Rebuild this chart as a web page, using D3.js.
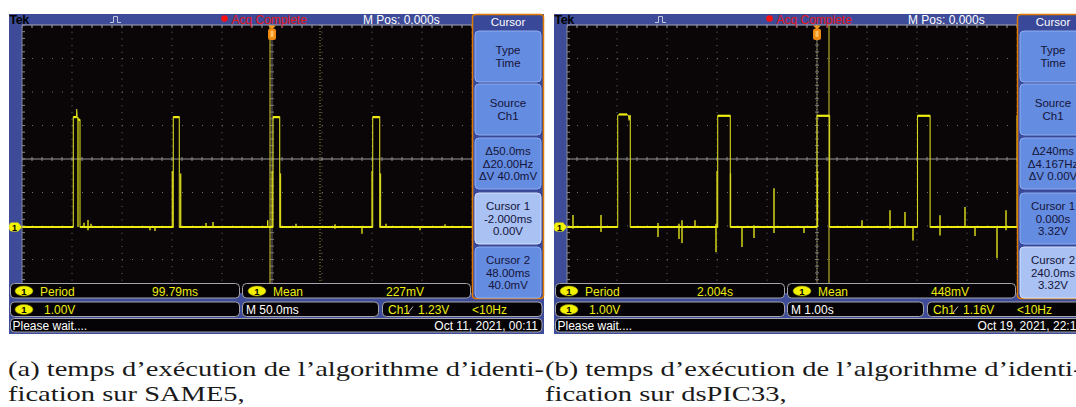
<!DOCTYPE html>
<html>
<head>
<meta charset="utf-8">
<script src="https://cdn.jsdelivr.net/npm/d3@7"></script>
<style>
  body { margin: 0; background: #fff; }
  svg { display: block; }
</style>
</head>
<body>
<div id="chart"></div>
<script>
// Two Tek oscilloscope captures side by side, with their LaTeX captions

// --- Panel A (SAME5): time in ms, 50 ms/div, 1 V/div ---
const traceA = [
  [-250, 0], [-198.7, 0], [-198.7, 3.28], [-195.5, 3.28], [-195.3, 3.52], [-194.8, 3.28],
  [-193.5, 3.2], [-192, 3.2], [-192, 0],
  [-98.7, 0], [-98.7, 3.28], [-92.7, 3.28], [-92.7, 0],
  [1, 0], [1, 3.28], [7.7, 3.28], [7.7, 0],
  [100.7, 0], [100.7, 3.28], [107.7, 3.28], [107.7, 0],
  [200.5, 0], [200.5, 3.28], [207.5, 3.28], [207.5, 0], [250, 0]
];
// short glitches on the baseline: [time, low V, high V]
const glitchA = [
  [-188, 0, 0.13], [-184, -0.1, 0.21], [-181, 0, 0.1], [-122, -0.1, 0], [-117, -0.12, 0],
  [-66, 0, 0.12], [-59, 0, 0.15], [-4.3, 0, 0.2], [24, 0, 0.1], [63, -0.05, 0.08],
  [90, -0.2, 0], [114, 0, 0.1], [148, -0.1, 0], [173, 0, 0.08]
];
// persistence edges: [time, from V, to V]
const ghostA = [
  [-194, 0, 3.28], [-99.7, 0, 1.67], [-91.3, 0, 1.6], [0.2, 0, 1.67], [8.5, 0, 1.6],
  [100, 0, 1.67], [108.5, 0, 1.6]
];
const cursorsA = [-2, 48];
const menuA = [
  ["Type", "Time"], ["Source", "Ch1"], ["\u039450.0ms", "\u039420.00Hz", "\u0394V 40.0mV"],
  ["Cursor 1", "-2.000ms", "0.00V"], ["Cursor 2", "48.00ms", "40.0mV"]
];
const measA = ["Period", "99.79ms", "Mean", "227mV"];
const statusA = ["1.00V", "M 50.0ms", "Ch1", "1.23V", "<10Hz", "Oct 11, 2021, 00:11"];

// --- Panel B (dsPIC33): time in s, 1 s/div, 1 V/div ---
const traceB = [
  [-5, 0], [-3.986, 0], [-3.986, 3.32], [-3.96, 3.36], [-3.8, 3.36], [-3.77, 3.32], [-3.76, 3.18],
  [-3.745, 3.32], [-3.734, 3.32], [-3.734, 0],
  [-1.986, 0], [-1.986, 3.32], [-1.734, 3.32], [-1.734, 0],
  [0, 0], [0, 3.32], [0.252, 3.32], [0.252, 0],
  [2.01, 0], [2.01, 3.32], [2.262, 3.32], [2.262, 0],
  [4.0, 0], [4.0, 3.32], [4.26, 3.32], [4.26, 0], [5, 0]
];
const glitchB = [
  [-4.88, -0.05, 0.36], [-4.32, -0.15, 0.36], [-3.18, -0.3, 0.12], [-2.76, -0.36, 0.1],
  [-2.7, -0.48, 0.2], [-2.44, 0, 0.2], [-2.02, -0.75, 0.1], [-1.5, -0.6, 0],
  [-1.26, -0.33, 0.05], [-0.86, -0.18, 1.16], [-0.26, -0.18, 0],
  [0.9, 0, 0.2], [1.46, -0.05, 0.5], [1.76, 0, 0.45], [1.92, -0.4, 0], [2.46, -0.25, 0.35],
  [2.96, 0, 0.6], [3.16, -0.27, 0], [3.6, -0.93, 0], [3.78, -0.1, 0.5]
];
const ghostB = [[-2.0, 0, 1.67], [-1.73, 0, 1.6], [0.01, 0, 1.67]];
const cursorsB = [0, 0.24];
const menuB = [
  ["Type", "Time"], ["Source", "Ch1"], ["\u0394240ms", "\u03944.167Hz", "\u0394V 0.00V"],
  ["Cursor 1", "0.000s", "3.32V"], ["Cursor 2", "240.0ms", "3.32V"]
];
const measB = ["Period", "2.004s", "Mean", "448mV"];
const statusB = ["1.00V", "M 1.00s", "Ch1", "1.16V", "<10Hz", "Oct 19, 2021, 22:17"];

const captionA = ["(a) temps d\u2019ex\u00e9cution de l\u2019algorithme d\u2019identi-", "fication sur SAME5,"];
const captionB = ["(b) temps d\u2019ex\u00e9cution de l\u2019algorithme d\u2019identi-", "fication sur dsPIC33,"];

const panels = [
  { ox: 0, div: 50, trace: traceA, glitch: glitchA, ghost: ghostA, cursors: cursorsA, sel: 0,
    menu: menuA, meas: measA, status: statusA },
  { ox: 545, div: 1, trace: traceB, glitch: glitchB, ghost: ghostB, cursors: cursorsB, sel: 1,
    menu: menuB, meas: measB, status: statusB }
];

const W = 1076, H = 407;
const svg = d3.select("#chart").append("svg")
  .attr("width", W).attr("height", H)
  .style("font-family", "'Liberation Sans', Arial, sans-serif");

const YEL = "#ecec10";

function badge(g, cx, cy) {
  g.append("ellipse").attr("cx", cx).attr("cy", cy).attr("rx", 9).attr("ry", 5)
    .attr("fill", "#f2f200").attr("stroke", "#8a8a00").attr("stroke-width", 0.6);
  g.append("text").attr("x", cx).attr("y", cy + 3.5).attr("text-anchor", "middle")
    .attr("font-size", 9.5).attr("font-weight", "bold").attr("fill", "#000").text("1");
}

function box(g, x0, x1, y0, y1) {
  g.append("rect").attr("x", x0).attr("y", y0).attr("width", x1 - x0).attr("height", y1 - y0)
    .attr("rx", 4).attr("fill", "#050305").attr("stroke", "#a4a4aa").attr("stroke-width", 1);
}

function drawScope(p) {
  const g = svg.append("g").attr("transform", `translate(${p.ox},0)`);
  const L = 22, T = 25, R = 522, B = 293;

  // graticule in divisions, signal in time / volts
  const gx = d3.scaleLinear().domain([-5, 5]).range([L, R]);
  const gy = d3.scaleLinear().domain([-4, 4]).range([B, T]);
  const x = d3.scaleLinear().domain([-5 * p.div, 5 * p.div]).range([L, R]);
  const y = d3.scaleLinear().domain([-1.97, 6.03]).range([B, T]);

  // blue bezel and black screen
  g.append("rect").attr("x", 9).attr("y", 14).attr("width", 535).attr("height", 320).attr("fill", "#3d4b98");
  g.append("rect").attr("x", L).attr("y", T).attr("width", R - L).attr("height", B - T).attr("fill", "#0a0608");

  const clipId = "clip" + p.ox;
  g.append("clipPath").attr("id", clipId)
    .append("rect").attr("x", L).attr("y", T).attr("width", R - L).attr("height", B - T);
  const plot = g.append("g").attr("clip-path", `url(#${clipId})`);

  // dotted division lines
  const dy = gy(0) - gy(0.2), dx = gx(0.2) - gx(0);
  plot.selectAll("line.v").data(d3.range(-4, 6).filter(d => d !== 0)).join("line")
    .attr("x1", d => gx(d)).attr("x2", d => gx(d)).attr("y1", T).attr("y2", B)
    .attr("stroke", "#6e6e6e").attr("stroke-dasharray", `1,${dy - 1}`);
  plot.selectAll("line.h").data(d3.range(-3, 4).filter(d => d !== 0)).join("line")
    .attr("x1", L).attr("x2", R).attr("y1", d => gy(d)).attr("y2", d => gy(d))
    .attr("stroke", "#6e6e6e").attr("stroke-dasharray", `1,${dx - 1}`);

  // centre crosshair with minor ticks
  plot.append("line").attr("x1", L).attr("x2", R).attr("y1", gy(0)).attr("y2", gy(0))
    .attr("stroke", "#969696");
  plot.append("line").attr("x1", gx(0)).attr("x2", gx(0)).attr("y1", T).attr("y2", B)
    .attr("stroke", "#6a6a6a");
  plot.selectAll("line.ct").data(d3.range(-25, 26)).join("line")
    .attr("x1", d => gx(d / 5)).attr("x2", d => gx(d / 5))
    .attr("y1", gy(0) - 2).attr("y2", gy(0) + 2).attr("stroke", "#8e8e8e");
  plot.selectAll("line.cl").data(d3.range(-20, 21)).join("line")
    .attr("x1", gx(0) - 2).attr("x2", gx(0) + 2)
    .attr("y1", d => gy(d / 5)).attr("y2", d => gy(d / 5)).attr("stroke", "#7a7a7a");

  // edge ticks
  plot.selectAll("line.et").data(d3.range(0, 51)).join("line")
    .attr("x1", d => gx(-5 + d / 5)).attr("x2", d => gx(-5 + d / 5))
    .attr("y1", T).attr("y2", T + 3).attr("stroke", "#9a9aa6");
  plot.selectAll("line.el").data(d3.range(0, 41)).join("line")
    .attr("x1", L).attr("x2", L + 3)
    .attr("y1", d => gy(-4 + d / 5)).attr("y2", d => gy(-4 + d / 5)).attr("stroke", "#8a8a96");

  // cursors
  p.cursors.forEach((c, i) => {
    plot.append("line").attr("x1", x(c)).attr("x2", x(c)).attr("y1", T).attr("y2", B)
      .attr("stroke", i === p.sel ? "#c4bc30" : "#8e8a38")
      .attr("stroke-width", 1.1)
      .attr("stroke-dasharray", i === p.sel ? null : "1,2");
  });

  // persistence edges
  plot.selectAll("line.gh").data(p.ghost).join("line")
    .attr("x1", d => x(d[0])).attr("x2", d => x(d[0]))
    .attr("y1", d => y(d[1])).attr("y2", d => y(d[2]))
    .attr("stroke", "#d8d818").attr("stroke-width", 1.3);

  // trace
  const line = d3.line().x(d => x(d[0])).y(d => y(d[1]));
  plot.append("path").datum(p.trace).attr("d", line)
    .attr("fill", "none").attr("stroke", "#d6d620").attr("stroke-width", 1.1);
  const flats = d3.pairs(p.trace).filter(([a, b]) => a[1] === b[1]);
  plot.selectAll("line.fl").data(flats).join("line")
    .attr("x1", d => x(d[0][0])).attr("x2", d => x(d[1][0]))
    .attr("y1", d => y(d[0][1])).attr("y2", d => y(d[1][1]))
    .attr("stroke", YEL).attr("stroke-width", 2.2);

  // glitches
  plot.selectAll("line.gl").data(p.glitch).join("line")
    .attr("x1", d => x(d[0])).attr("x2", d => x(d[0]))
    .attr("y1", d => y(d[1])).attr("y2", d => y(d[2]))
    .attr("stroke", "#e2e218").attr("stroke-width", 1.4);

  // screen border
  g.append("line").attr("x1", L).attr("x2", R).attr("y1", T).attr("y2", T).attr("stroke", "#a8a8b8");
  g.append("line").attr("x1", L).attr("x2", L).attr("y1", T).attr("y2", B).attr("stroke", "#8a8a9a");

  // trigger position marker
  const tx = x(0);
  g.append("path").attr("d", `M${tx - 4},25.5 L${tx + 4},25.5 L${tx},29.5 Z`).attr("fill", "#f39a20");
  g.append("rect").attr("x", tx - 4).attr("y", 28.5).attr("width", 8).attr("height", 11.5)
    .attr("rx", 2.5).attr("fill", "#f08a10");
  g.append("rect").attr("x", tx - 1.5).attr("y", 31).attr("width", 3).attr("height", 6)
    .attr("fill", "#ffc060");

  // ground marker for channel 1
  const y0 = y(0);
  g.append("path").attr("d", `M12,${y0 - 4.5} H18 L22,${y0} L18,${y0 + 4.5} H12 Q9,${y0 + 4.5} 9,${y0} Q9,${y0 - 4.5} 12,${y0 - 4.5} Z`)
    .attr("fill", "#f2f200");
  g.append("text").attr("x", 14.5).attr("y", y0 + 3.5).attr("text-anchor", "middle")
    .attr("font-size", 9).attr("font-weight", "bold").text("1");

  // header
  g.append("text").attr("x", 9.5).attr("y", 24).attr("font-size", 12.5).attr("font-weight", "bold")
    .attr("fill", "#000").attr("letter-spacing", -0.5).text("Tek");
  g.append("path").attr("d", "M110,22.5 H113.5 V16.5 H117.5 V22.5 H121")
    .attr("fill", "none").attr("stroke", "#c4c4dc").attr("stroke-width", 1);
  g.append("circle").attr("cx", 224.5).attr("cy", 18.5).attr("r", 3.3).attr("fill", "#ff1010");
  g.append("text").attr("x", 231.5).attr("y", 24).attr("font-size", 12).attr("fill", "#e81818").text("Acq Complete");
  g.append("text").attr("x", 363).attr("y", 24).attr("font-size", 12).attr("fill", "#fff").text("M Pos: 0.000s");

  // side menu
  const m = g.append("g").attr("transform", "translate(472,14)");
  m.append("rect").attr("x", 0.5).attr("y", 0.5).attr("width", 71).attr("height", 284).attr("rx", 3)
    .attr("fill", "#3a489a").attr("stroke", "#e07a00").attr("stroke-width", 1.5);
  m.append("text").attr("x", 36).attr("y", 12).attr("text-anchor", "middle")
    .attr("font-size", 11.5).attr("fill", "#fff").text("Cursor");
  const btnY = [17, 70, 124, 179, 233];
  p.menu.forEach((lines, i) => {
    const selected = i === 3 + p.sel;
    m.append("rect").attr("x", 3).attr("y", btnY[i]).attr("width", 66).attr("height", 51).attr("rx", 4)
      .attr("fill", selected ? "#a9c1f3" : "#648ce0")
      .attr("stroke", selected ? "#d6e2fb" : "#8eaeef").attr("stroke-width", 1);
    const cy = btnY[i] + 25.5;
    lines.forEach((t, j) => {
      m.append("text").attr("x", 36).attr("y", cy + (j - (lines.length - 1) / 2) * 12.5 + 4)
        .attr("text-anchor", "middle").attr("font-size", 11.5).attr("fill", "#14143a").text(t);
    });
  });

  // measurement row
  box(g, 10.5, 239.5, 283.5, 298);
  box(g, 242.5, 470.5, 283.5, 298);
  badge(g, 24, 291);
  g.append("text").attr("x", 40).attr("y", 295.5).attr("font-size", 12).attr("fill", YEL).text(p.meas[0]);
  g.append("text").attr("x", 152).attr("y", 295.5).attr("font-size", 12).attr("fill", YEL).text(p.meas[1]);
  badge(g, 257, 291);
  g.append("text").attr("x", 273).attr("y", 295.5).attr("font-size", 12).attr("fill", YEL).text(p.meas[2]);
  g.append("text").attr("x", 386).attr("y", 295.5).attr("font-size", 12).attr("fill", YEL).text(p.meas[3]);

  // scale / timebase / trigger row
  box(g, 10.5, 239.5, 302, 316.5);
  box(g, 242.5, 378.5, 302, 316.5);
  box(g, 382.5, 542, 302, 316.5);
  badge(g, 24, 309.5);
  g.append("text").attr("x", 44).attr("y", 314).attr("font-size", 12).attr("fill", YEL).text(p.status[0]);
  g.append("text").attr("x", 246).attr("y", 314).attr("font-size", 12).attr("fill", "#fff").text(p.status[1]);
  g.append("text").attr("x", 388).attr("y", 314).attr("font-size", 12).attr("fill", YEL).text(p.status[2]);
  g.append("path").attr("d", "M408,313 L413,306.5").attr("stroke", "#d0d0d0").attr("stroke-width", 0.9);
  g.append("text").attr("x", 418).attr("y", 314).attr("font-size", 12).attr("fill", YEL).text(p.status[3]);
  g.append("text").attr("x", 472).attr("y", 314).attr("font-size", 12).attr("fill", YEL).text(p.status[4]);

  // status line
  box(g, 10.5, 542, 318.5, 332);
  g.append("text").attr("x", 12.5).attr("y", 329.5).attr("font-size", 12).attr("fill", "#fff").text("Please wait....");
  g.append("text").attr("x", 538).attr("y", 329.5).attr("text-anchor", "end")
    .attr("font-size", 12).attr("fill", "#fff").text(p.status[5]);
}

panels.forEach(drawScope);

// captions: Times-like serif, stretched so the first line spans the scope width
const capFont = "'Liberation Serif', 'Times New Roman', serif";
const capSize = 20.5;
const probe = svg.append("text").attr("font-family", capFont).attr("font-size", capSize).text(captionA[0]);
const capScale = 536 / probe.node().getComputedTextLength();
probe.remove();

[[8, captionA], [545, captionB]].forEach(([cx, lines]) => {
  lines.forEach((t, i) => {
    svg.append("text")
      .attr("transform", `translate(${cx},${376 + i * 25}) scale(${capScale},1)`)
      .attr("font-family", capFont).attr("font-size", capSize)
      .attr("fill", "#1a1a1a").text(t);
  });
});
</script>
</body>
</html>
